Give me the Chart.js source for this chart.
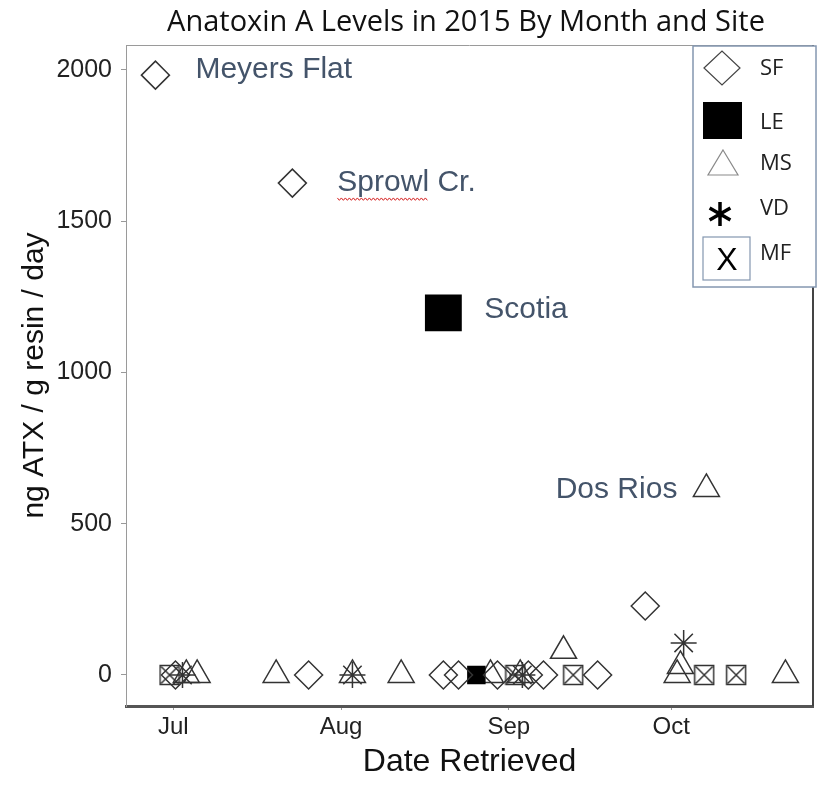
<!DOCTYPE html>
<html>
<head>
<meta charset="utf-8">
<title>Anatoxin A Levels in 2015</title>
<script src="https://cdn.jsdelivr.net/npm/chart.js@4.4.0/dist/chart.umd.min.js"></script>
<style>
  html, body { margin: 0; padding: 0; background: #fff; }
  #wrap { width: 817px; height: 793px; }
</style>
</head>
<body>
<div id="wrap"><canvas id="chart" width="817" height="793"></canvas></div>
<script>
// x values are days counted from July 1, 2015
var monthTicks = [0, 31, 62, 92];
var monthLabels = ['Jul', 'Aug', 'Sep', 'Oct'];
var valueTicks = [0, 500, 1000, 1500, 2000];

var siteNames = ['SF', 'LE', 'MS', 'VD', 'MF'];

var sfDays = [-3.3, 22.0, 87.2, 0.4, 25.0, 49.9, 52.7, 59.9, 65.6, 68.4, 78.4];
var sfVals = [1983, 1626, 228, 0, 0, 0, 0, 0, 0, 0, 0];

var leDays = [49.9, 56.0];
var leVals = [1197, 0];

var msDays = [98.5, 72.1, 93.7, 93.1, 113.1, 2.4, 4.4, 19.0, 33.1, 42.1, 58.6, 64.1];
var msVals = [615, 80, 30, 0, 0, 0, 0, 0, 0, 0, 0, 0];

var vdDays = [94.3, 1.7, 33.1, 64.5];
var vdVals = [106, 0, 0, 0];

var mfDays = [-0.7, 63.2, 73.9, 98.1, 104.0];
var mfVals = [0, 0, 0, 0, 0];

var noteTexts = ['Meyers Flat', 'Sprowl Cr.', 'Scotia', 'Dos Rios'];
var noteDays = [-3.3, 22.0, 49.9, 98.5];
var noteVals = [1983, 1626, 1197, 615];

var INK = '#333';
var NOTE_COLOR = '#44546a';

function toPoints(days, vals) {
    var pts = [];
    for (var i = 0; i < days.length; i++) {
        pts.push({x: days[i], y: vals[i]});
    }
    return pts;
}

// boxed X marker for MF
function boxedX() {
    var c = document.createElement('canvas');
    c.width = 22;
    c.height = 22;
    var g = c.getContext('2d');
    g.strokeStyle = INK;
    g.lineWidth = 1.5;
    g.strokeRect(1.5, 1.5, 19, 19);
    g.beginPath();
    g.moveTo(2.5, 2.5); g.lineTo(19.5, 19.5);
    g.moveTo(19.5, 2.5); g.lineTo(2.5, 19.5);
    g.stroke();
    return c;
}

var noteStyle = [
    {dx: 40, dy: -5, align: 'left'},
    {dx: 45, dy: 0, align: 'left', squiggle: 'Sprowl'},
    {dx: 41, dy: -3, align: 'left'},
    {dx: -29, dy: 1, align: 'right'}
];

var extras = {
    id: 'extras',
    afterDatasetsDraw: function (chart) {
        var ctx = chart.ctx;
        var area = chart.chartArea;
        var xs = chart.scales.x, ys = chart.scales.y;
        ctx.save();

        // frame: thin top, darker right side
        ctx.strokeStyle = '#9a9a9a';
        ctx.lineWidth = 1;
        ctx.beginPath();
        ctx.moveTo(area.left, area.top + 0.5);
        ctx.lineTo(area.right, area.top + 0.5);
        ctx.stroke();
        ctx.strokeStyle = '#444';
        ctx.lineWidth = 2;
        ctx.beginPath();
        ctx.moveTo(area.right, area.top);
        ctx.lineTo(area.right, area.bottom);
        ctx.stroke();

        // title
        ctx.fillStyle = '#111';
        ctx.font = '29px "Open Sans"';
        ctx.textAlign = 'center';
        ctx.textBaseline = 'alphabetic';
        ctx.fillText('Anatoxin A Levels in 2015 By Month and Site', 466, 31);

        // site notes
        ctx.font = '30px "Liberation Sans", Arial';
        ctx.textBaseline = 'middle';
        ctx.fillStyle = NOTE_COLOR;
        for (var i = 0; i < noteTexts.length; i++) {
            var st = noteStyle[i];
            var px = xs.getPixelForValue(noteDays[i]) + st.dx;
            var py = ys.getPixelForValue(noteVals[i]) + st.dy;
            ctx.textAlign = st.align;
            ctx.fillText(noteTexts[i], px, py);
            if (st.squiggle) {
                var w = ctx.measureText(st.squiggle).width;
                ctx.strokeStyle = '#d42020';
                ctx.lineWidth = 1;
                ctx.beginPath();
                for (var k = 0; k <= w; k += 2) {
                    var yy = py + 16 + ((k / 2) % 2 ? 1.2 : -1.2);
                    if (k === 0) ctx.moveTo(px + k, yy); else ctx.lineTo(px + k, yy);
                }
                ctx.stroke();
            }
        }

        // legend box
        var lx = 693, ly = 46, lw = 123, lh = 241;
        ctx.fillStyle = '#fff';
        ctx.fillRect(lx, ly, lw, lh);
        ctx.strokeStyle = '#8497b0';
        ctx.lineWidth = 1.5;
        ctx.strokeRect(lx, ly, lw, lh);

        var symY = [68, 120, 163, 214, 258];
        var txtY = [69, 123, 164, 209, 254];
        var sx = 722;

        // SF diamond
        ctx.strokeStyle = '#444';
        ctx.lineWidth = 1.2;
        ctx.beginPath();
        ctx.moveTo(sx - 18, symY[0]);
        ctx.lineTo(sx, symY[0] - 17);
        ctx.lineTo(sx + 18, symY[0]);
        ctx.lineTo(sx, symY[0] + 17);
        ctx.closePath();
        ctx.stroke();

        // LE filled square
        ctx.fillStyle = '#000';
        ctx.fillRect(sx - 19, symY[1] - 18, 39, 37);

        // MS triangle
        ctx.strokeStyle = '#8a8a8a';
        ctx.beginPath();
        ctx.moveTo(sx + 1, symY[2] - 13);
        ctx.lineTo(sx + 16, symY[2] + 12);
        ctx.lineTo(sx - 14, symY[2] + 12);
        ctx.closePath();
        ctx.stroke();

        // VD asterisk
        ctx.strokeStyle = '#000';
        ctx.lineWidth = 3.5;
        ctx.beginPath();
        for (var a = 0; a < 3; a++) {
            var ang = Math.PI / 2 + a * Math.PI / 3;
            ctx.moveTo(sx - 2 + Math.cos(ang) * 12, symY[3] - Math.sin(ang) * 12);
            ctx.lineTo(sx - 2 - Math.cos(ang) * 12, symY[3] + Math.sin(ang) * 12);
        }
        ctx.stroke();

        // MF boxed X
        ctx.strokeStyle = '#8497b0';
        ctx.lineWidth = 1.2;
        ctx.strokeRect(703, 237, 47, 43);
        ctx.fillStyle = '#000';
        ctx.font = '32px "Liberation Sans", Arial';
        ctx.textAlign = 'center';
        ctx.textBaseline = 'middle';
        ctx.fillText('X', 727, 261);

        // legend labels
        ctx.fillStyle = '#222';
        ctx.font = '22px "Open Sans"';
        ctx.textAlign = 'left';
        chart.data.datasets.forEach(function (ds, j) {
            ctx.fillText(ds.label, 760, txtY[j]);
        });

        ctx.restore();
    }
};

var pointBase = {
    showLine: false,
    borderColor: INK,
    backgroundColor: 'rgba(0,0,0,0)',
    borderWidth: 1.5
};

function dataset(label, pts, extra) {
    return Object.assign({label: label, data: pts}, pointBase, extra);
}

new Chart(document.getElementById('chart'), {
    type: 'scatter',
    data: {
        datasets: [
            dataset(siteNames[0], toPoints(sfDays, sfVals), {pointStyle: 'rectRot', pointRadius: 14}),
            dataset(siteNames[1], toPoints(leDays, leVals), {
                pointStyle: 'rect',
                backgroundColor: '#000',
                borderColor: '#000',
                pointRadius: function (c) { return c.raw && c.raw.y > 500 ? 25 : 12; }
            }),
            dataset(siteNames[2], toPoints(msDays, msVals), {pointStyle: 'triangle', pointRadius: 15}),
            dataset(siteNames[3], toPoints(vdDays, vdVals), {pointStyle: 'star', pointRadius: 13}),
            dataset(siteNames[4], toPoints(mfDays, mfVals), {pointStyle: boxedX(), pointRadius: 11})
        ]
    },
    options: {
        responsive: false,
        animation: false,
        events: [],
        // no automatic room for big markers; the frame is fixed
        layout: {autoPadding: false, padding: {top: 45, right: 4, left: 0, bottom: 0}},
        plugins: {
            legend: {display: false},
            tooltip: {enabled: false},
            title: {display: false}
        },
        scales: {
            x: {
                type: 'linear',
                min: -8.74,
                max: 118.2,
                afterBuildTicks: function (s) {
                    s.ticks = monthTicks.map(function (v) { return {value: v}; });
                },
                afterFit: function (s) { s.height = 87; },
                ticks: {
                    autoSkip: false,
                    maxRotation: 0,
                    padding: 3,
                    color: '#222',
                    font: {family: '"Liberation Sans", Arial', size: 24},
                    callback: function (v) {
                        var i = monthTicks.indexOf(v);
                        return i < 0 ? '' : monthLabels[i];
                    }
                },
                grid: {drawOnChartArea: false, tickLength: 4, color: '#999'},
                border: {color: '#555', width: 3},
                title: {
                    display: true,
                    text: 'Date Retrieved',
                    color: '#111',
                    font: {family: '"Liberation Sans", Arial', size: 32},
                    padding: {top: 0, bottom: 12}
                }
            },
            y: {
                min: -102.5,
                max: 2082.6,
                afterBuildTicks: function (s) {
                    s.ticks = valueTicks.map(function (v) { return {value: v}; });
                },
                afterFit: function (s) { s.width = 126; },
                ticks: {
                    padding: 9,
                    color: '#222',
                    font: {family: '"Liberation Sans", Arial', size: 25},
                    callback: function (v) { return String(v); }
                },
                grid: {drawOnChartArea: false, tickLength: 5, color: '#999'},
                border: {color: '#9a9a9a', width: 1},
                title: {
                    display: true,
                    text: 'ng ATX / g resin / day',
                    color: '#111',
                    font: {family: '"Liberation Sans", Arial', size: 30},
                    padding: {top: 17, bottom: 0}
                }
            }
        }
    },
    plugins: [extras]
});
</script>
</body>
</html>
